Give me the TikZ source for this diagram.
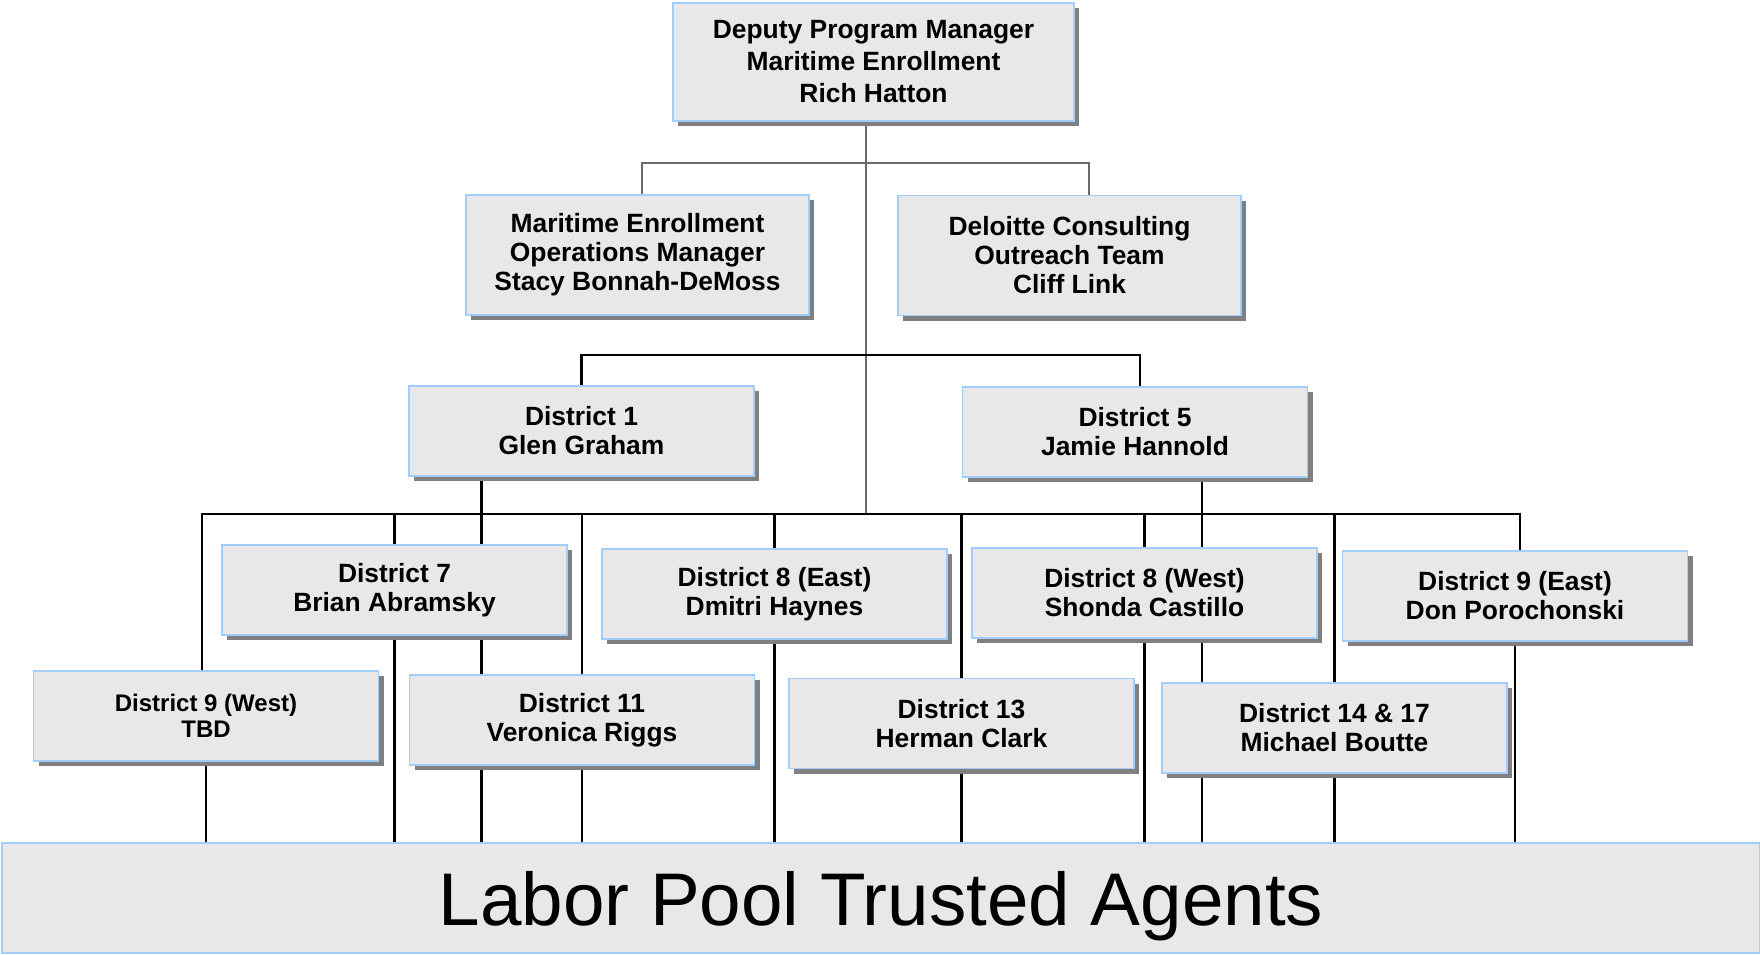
\documentclass[tikz,border=0pt]{standalone}
\usepackage{fontspec}
\setmainfont{Liberation Sans}
\usetikzlibrary{shadows,backgrounds}
\definecolor{boxfill}{RGB}{232,232,232}
\definecolor{boxline}{RGB}{160,205,250}
\definecolor{shade}{RGB}{128,128,128}
\definecolor{wire}{RGB}{105,105,105}
\begin{document}
\begin{tikzpicture}[x=0.5pt, y=-0.5pt, inner sep=0pt, outer sep=0pt,
	unit/.style={rectangle, fill=boxfill, draw=boxline, line width=0.8pt, minimum width=172.5pt, minimum height=45pt, align=center, font=\bfseries\fontsize{13.2}{14.5}\selectfont, drop shadow={shadow xshift=2.5pt, shadow yshift=-2.5pt, fill=shade, opacity=1}},
	pool/.style={rectangle, fill=boxfill, draw=boxline, line width=0.8pt, minimum width=879pt, minimum height=55pt, text depth=0pt, font=\fontsize{37.3}{40}\selectfont},
	link/.style={draw=wire, line width=1pt},
	feed/.style={draw=black, line width=1.4pt}]
\useasboundingbox (0,0) rectangle (1760,954);
% boxes
\node[unit, minimum width=200.5pt, minimum height=59pt, font=\bfseries\fontsize{13.2}{16}\selectfont] (T) at (873.5,62) {Deputy Program Manager\\Maritime Enrollment\\Rich Hatton};
\node[unit, minimum width=171.5pt, minimum height=60pt] (O) at (637.5,255) {Maritime Enrollment\\Operations Manager\\Stacy Bonnah-DeMoss};
\node[unit, minimum width=171.5pt, minimum height=60pt] (C) at (1069.5,255.5) {Deloitte Consulting\\Outreach Team\\Cliff Link};
\node[unit] (D1) at (581.5,431) {District 1\\Glen Graham};
\node[unit] (D5) at (1135,432) {District 5\\Jamie Hannold};
\node[unit] (D7) at (394.5,590) {District 7\\Brian Abramsky};
\node[unit] (D8E) at (774.5,594) {District 8 (East)\\Dmitri Haynes};
\node[unit] (D8W) at (1144.5,593) {District 8 (West)\\Shonda Castillo};
\node[unit] (D9E) at (1515,596) {District 9 (East)\\Don Porochonski};
\node[unit, font=\bfseries\fontsize{12}{13}\selectfont] (D9W) at (206,716) {District 9 (West)\\TBD};
\node[unit] (D11) at (582,720) {District 11\\Veronica Riggs};
\node[unit] (D13) at (961.5,723.5) {District 13\\Herman Clark};
\node[unit] (D14) at (1334.5,728) {District 14 \& 17\\Michael Boutte};
\node[pool] (P) at (881,898) {Labor Pool Trusted Agents};
% wiring
\coordinate (split) at (866,163);
\coordinate (fork) at (866,355);
\coordinate (bar) at (866,514);
\begin{scope}[on background layer]
	\draw[link] ([xshift=-3.75pt]T.south) -- (bar);
	\draw[link] ([xshift=2.25pt]O.north) |- (split) -| ([xshift=9.75pt]C.north);
	\draw[feed] (D1.north) |- (fork) -| ([xshift=2.5pt]D5.north);
	\draw[feed] ([xshift=-2pt]D9W.north) |- (bar) -| ([xshift=2.5pt]D9E.north);
	\foreach \n in {D7,D11,D8E,D13,D8W,D14}
		\draw[feed] (\n.north) -- (\n.north |- bar);
	\foreach \n in {D9W,D7,D11,D8E,D13,D8W,D14,D9E}
		\draw[feed] (\n.south) -- (\n.south |- P.north);
	\draw[feed] ([xshift=-50pt]D1.south) -- ([xshift=-50pt]D1.south |- P.north);
	\draw[feed] ([xshift=33.5pt]D5.south) -- ([xshift=33.5pt]D5.south |- P.north);
\end{scope}
\end{tikzpicture}
\end{document}
